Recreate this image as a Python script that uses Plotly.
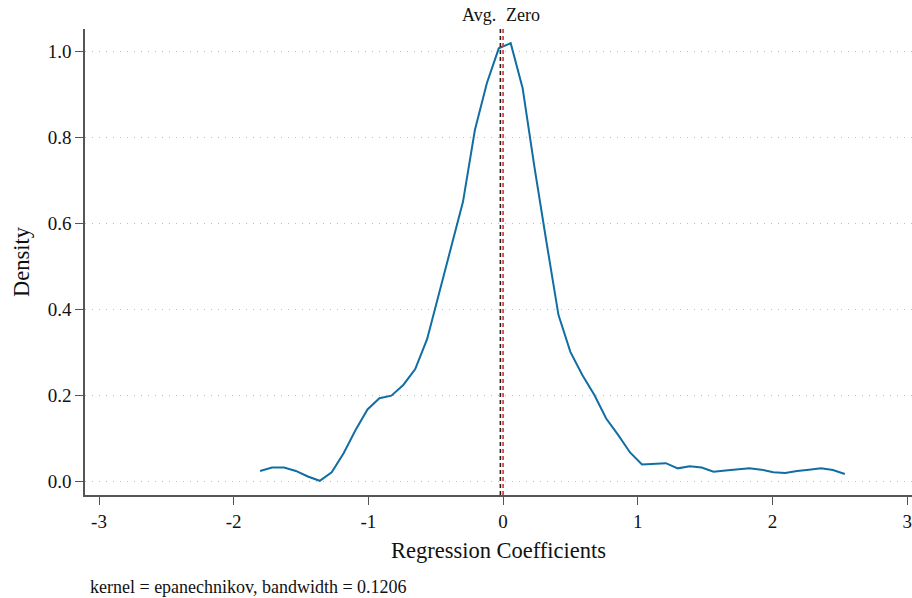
import plotly.graph_objects as go

# Kernel density estimate of regression coefficients (50 evaluation points)
coef_x = [-1.804, -1.7154, -1.6268, -1.5382, -1.4496, -1.361, -1.2724, -1.1838, -1.0952, -1.0066,
          -0.918, -0.8294, -0.7408, -0.6522, -0.5636, -0.475, -0.3864, -0.2978, -0.2092, -0.1206,
          -0.032, 0.0566, 0.1452, 0.2338, 0.3224, 0.411, 0.4996, 0.5882, 0.6768, 0.7654,
          0.854, 0.9426, 1.0312, 1.1198, 1.2084, 1.297, 1.3856, 1.4742, 1.5628, 1.6514,
          1.74, 1.8286, 1.9172, 2.0058, 2.0944, 2.183, 2.2716, 2.3602, 2.4488, 2.5374]
density = [0.025, 0.033, 0.033, 0.025, 0.012, 0.002, 0.022, 0.066, 0.120, 0.168,
           0.194, 0.200, 0.225, 0.262, 0.332, 0.438, 0.544, 0.651, 0.818, 0.927,
           1.008, 1.020, 0.915, 0.730, 0.557, 0.388, 0.302, 0.248, 0.202, 0.147,
           0.109, 0.068, 0.040, 0.042, 0.043, 0.031, 0.036, 0.033, 0.023, 0.026,
           0.028, 0.031, 0.028, 0.022, 0.020, 0.025, 0.028, 0.031, 0.027, 0.018]

avg_coef = -0.02
zero_ref = 0.0

x_ticks = [-3, -2, -1, 0, 1, 2, 3]
y_ticks = [0.0, 0.2, 0.4, 0.6, 0.8, 1.0]
y_tick_labels = ["0.0", "0.2", "0.4", "0.6", "0.8", "1.0"]

FONT = "Liberation Serif"
AXIS_COLOR = "#555555"

fig = go.Figure()

fig.add_trace(go.Scatter(
    x=coef_x, y=density, mode="lines",
    line=dict(color="#116ea3", width=2),
    showlegend=False, hoverinfo="skip",
))

# Reference lines: average coefficient and zero
fig.add_vline(x=avg_coef, line=dict(color="#222222", width=1.6, dash="4px,3px"))
fig.add_vline(x=zero_ref, line=dict(color="#e03030", width=1.6, dash="4px,3px"))

fig.add_annotation(x=avg_coef, y=1, xref="x", yref="paper", text="Avg.",
                   showarrow=False, xanchor="right", yanchor="bottom", yshift=2, xshift=-2,
                   font=dict(family=FONT, size=18, color="#111111"))
fig.add_annotation(x=zero_ref, y=1, xref="x", yref="paper", text="Zero",
                   showarrow=False, xanchor="left", yanchor="bottom", yshift=2, xshift=1,
                   font=dict(family=FONT, size=18, color="#111111"))

fig.add_annotation(x=0, y=0, xref="paper", yref="paper", text="kernel = epanechnikov, bandwidth = 0.1206",
                   showarrow=False, xanchor="left", yanchor="middle", xshift=3, yshift=-92,
                   font=dict(family=FONT, size=18, color="#111111"))

fig.update_layout(
    width=912, height=598,
    margin=dict(l=85, r=0, t=29, b=103),
    paper_bgcolor="white", plot_bgcolor="white",
    font=dict(family=FONT, size=18, color="#111111"),
    xaxis=dict(
        range=[-3.104, 3.036], tickvals=x_ticks, ticktext=[str(t) for t in x_ticks],
        showgrid=False, zeroline=False,
        showline=True, linecolor=AXIS_COLOR, linewidth=1.5,
        ticks="outside", ticklen=8, tickwidth=1.3, tickcolor=AXIS_COLOR,
        tickfont=dict(family=FONT, size=19),
        title=dict(text="Regression Coefficients", font=dict(family=FONT, size=22.5), standoff=12),
    ),
    yaxis=dict(
        range=[-0.031, 1.053], tickvals=y_ticks, ticktext=y_tick_labels,
        showgrid=True, gridcolor="#bdbdbd", griddash="1px,6px", gridwidth=1.3,
        zeroline=False,
        showline=True, linecolor=AXIS_COLOR, linewidth=1.5,
        ticks="outside", ticklen=8, tickwidth=1.3, tickcolor=AXIS_COLOR,
        tickfont=dict(family=FONT, size=19),
        title=dict(text="Density", font=dict(family=FONT, size=22.5), standoff=12),
    ),
)

fig.write_html("out.html")
